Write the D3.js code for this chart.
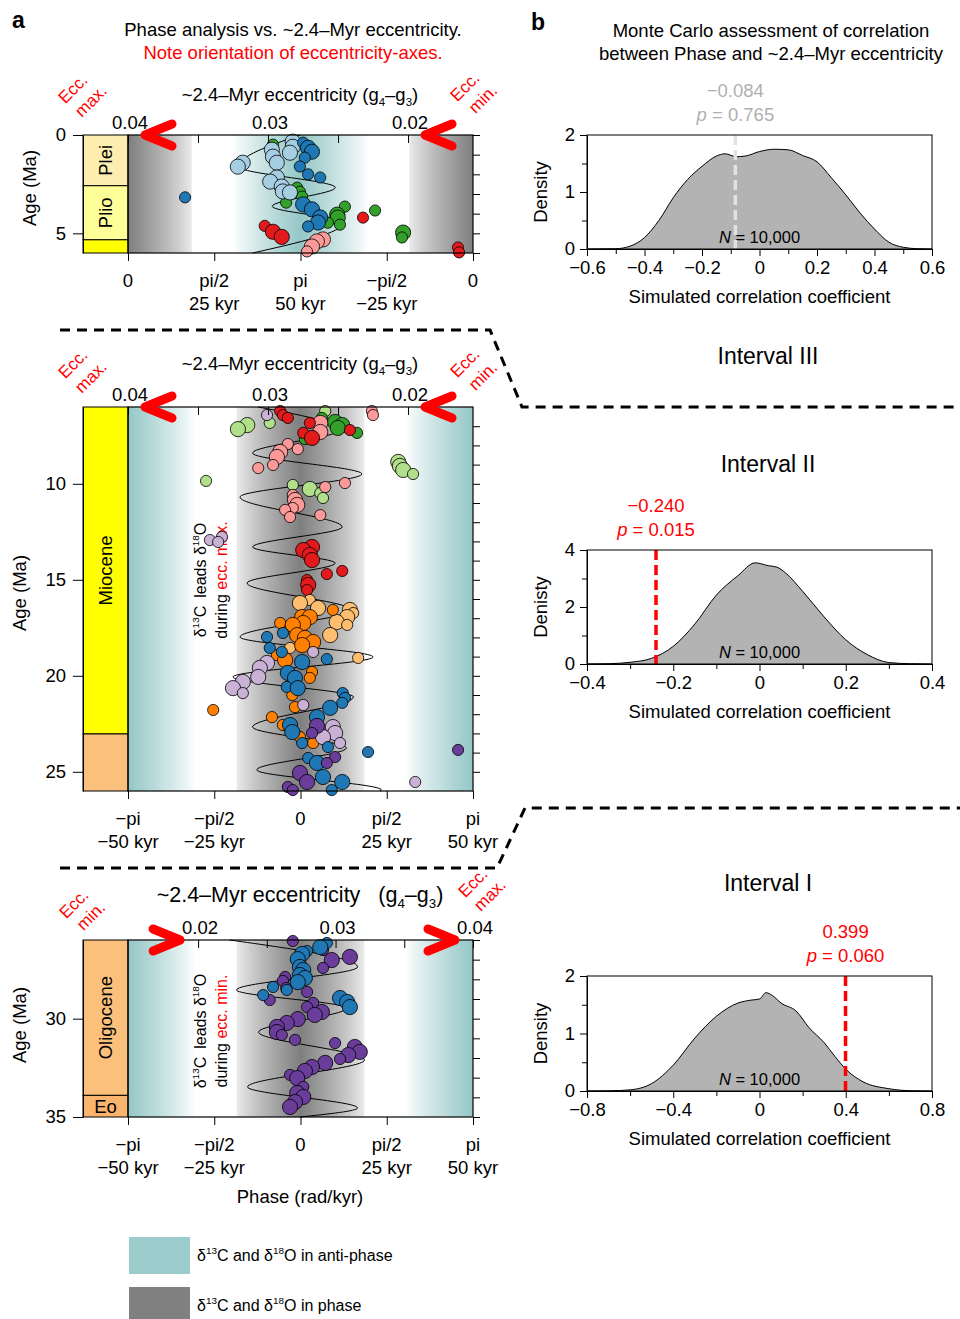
<!DOCTYPE html>
<html>
<head>
<meta charset="utf-8">
<title>Phase vs eccentricity</title>
<script src="https://d3js.org/d3.v7.min.js"></script>
<style>
  body { margin: 0; background: #fff; }
  svg text { font-family: "Liberation Sans", Arial, Helvetica, sans-serif; fill: #000; }
</style>
</head>
<body>
<svg id="fig" width="960" height="1319"></svg>
<script>
// ---------- data: panel a ----------
const PI = Math.PI;
const phaseTicksTop = [0, PI / 2, PI, 3 * PI / 2, 2 * PI];
const phaseLabelsTop = ["0", "pi/2", "pi", "\u2212pi/2", "0"];
const kyrLabelsTop = ["", "25 kyr", "50 kyr", "\u221225 kyr", ""];
const phaseTicksMid = [-PI, -PI / 2, 0, PI / 2, PI];
const phaseLabelsMid = ["\u2212pi", "\u2212pi/2", "0", "pi/2", "pi"];
const kyrLabelsMid = ["\u221250 kyr", "\u221225 kyr", "", "25 kyr", "50 kyr"];
const eccTicks = [0.02, 0.025, 0.03, 0.035, 0.04];
const eccLabelled = [0.02, 0.03, 0.04];

const epochNames = ["Plei", "Plio", "Miocene", "Oligocene", "Eo"];
const epochStart = [0, 2.58, 5.33, 23.03, 33.9];
const epochEnd = [2.58, 5.33, 23.03, 33.9, 35];

// ~2.4-Myr eccentricity curve, turning points (age Ma, eccentricity)
const curveTopAge = [0, 1.61, 2.67, 3.63, 4.44, 6.0];
const curveTopEcc = [0.0277, 0.0321, 0.0252, 0.0297, 0.0246, 0.0311];
const curveMidAge = [6.0, 7.2, 8.4, 9.49, 10.69, 12.25, 13.29, 14.13, 15.17, 16.57, 17.98, 19.02, 20.06, 21.1, 22.67, 23.76, 24.9, 25.95, 26.0];
const curveMidEcc = [0.0307, 0.0249, 0.0311, 0.0233, 0.0320, 0.0247, 0.0311, 0.0252, 0.0315, 0.0241, 0.0320, 0.0225, 0.0325, 0.0239, 0.0311, 0.0244, 0.0308, 0.0219, 0.0220];
const curveBotAge = [26.0, 27.37, 28.54, 29.46, 30.68, 32.1, 33.47, 34.54, 35.0];
const curveBotEcc = [0.0223, 0.0316, 0.0228, 0.0308, 0.0244, 0.0321, 0.0236, 0.0316, 0.0274];

// phase estimates: [age (Ma), phase (rad), coherence class 0/1]
const topGreen = [[0.49,2.64,0],[0.75,2.64,0],[2.68,3.08,0],[2.88,3.13,0],[3.13,3.17,0],[3.44,2.88,0],[3.64,3.95,0],[3.84,4.50,0],[4.05,3.81,1],[4.2,3.82,1],[4.46,3.64,0],[4.56,3.86,0],[4.96,5.01,1],[5.21,4.99,0]];
const topLtBlue = [[0.34,3.00,1],[0.6,3.0,1],[0.75,2.62,1],[0.9,2.95,1],[1.1,2.64,1],[1.41,2.71,1],[1.41,2.09,1],[1.61,2.0,1],[2.16,2.71,1],[2.37,2.59,1],[2.62,2.80,1],[2.87,2.82,1],[2.92,2.95,1]];
const topBlue = [[0.39,3.19,0],[0.65,3.28,1],[0.85,3.35,1],[1.15,3.22,0],[1.6,3.13,0],[2.0,3.28,0],[2.16,3.50,0],[3.17,1.04,0],[3.53,3.19,1],[3.78,3.35,1],[4.19,3.50,1],[4.45,3.46,1],[4.65,3.28,0]];
const topRed = [[4.2,4.28,0],[4.62,2.49,0],[4.92,2.64,1],[5.18,2.80,1],[5.72,6.01,0],[5.97,6.03,0]];
const topPink = [[5.31,3.55,1],[5.41,3.44,1],[5.67,3.35,1],[5.92,3.26,0]];

const midLtGreen = [[6.21,0.45,0],[6.83,-0.56,0],[6.94,-0.97,1],[7.15,-1.14,1],[8.86,1.78,1],[9.07,1.81,1],[9.28,1.87,1],[9.49,2.05,0],[9.85,-1.72,0],[10.06,-0.14,0],[10.27,0.17,1],[10.48,0.36,0],[10.74,0.41,0]];
const midGreen = [[6.57,0.39,0],[6.78,0.63,1],[6.94,0.76,1],[7.09,0.68,1],[7.35,1.03,0],[7.67,0.08,0]];
const midRed = [[6.21,-0.37,0],[6.42,-0.32,0],[6.57,-0.23,0],[6.83,0.17,0],[7.2,0.90,0],[7.35,0.05,0],[7.61,0.21,1],[13.29,0.21,1],[13.45,0.05,1],[13.71,0.17,1],[13.97,0.21,1],[14.54,0.76,0],[14.7,0.48,0],[15.01,0.12,0],[15.27,0.14,1],[15.53,0.12,0]];
const midPink = [[6.21,1.30,0],[6.42,1.32,0],[6.83,0.36,1],[7.3,0.36,1],[7.93,-0.23,0],[8.19,-0.05,0],[8.34,-0.37,1],[8.6,-0.43,1],[9.02,-0.50,0],[9.18,-0.77,0],[9.96,0.81,0],[10.17,0.45,0],[10.58,-0.14,0],[10.84,-0.10,1],[11.1,-0.06,1],[11.26,-0.14,0],[11.36,-0.28,0],[11.63,0.36,0],[11.73,-0.19,0]];
const midLtOrange = [[16.05,0.17,0],[16.21,-0.01,1],[16.47,0.32,1],[16.57,0.90,1],[16.73,0.96,0],[16.94,0.85,1],[17.2,0.66,1],[17.35,0.85,0],[17.88,0.54,1],[18.55,-0.19,0],[19.07,1.05,0]];
const midOrange = [[16.57,0.59,0],[16.94,0.03,1],[16.94,0.17,1],[17.25,0.05,1],[17.25,-0.37,0],[17.35,-0.14,1],[17.88,-0.06,1],[18.03,0.08,1],[18.24,0.23,1],[18.4,0.03,1],[18.92,-0.43,0],[19.18,-0.28,1],[19.8,0.21,0],[20.11,0.17,0],[21.0,-0.15,0],[21.63,-0.10,0],[21.78,-1.59,0],[22.15,-0.52,0],[22.56,-0.32,0],[23.19,-0.01,0],[23.5,0.23,0]];
const midLtPurple = [[6.42,-0.61,0],[12.77,-1.43,0],[12.93,-1.65,0],[13.03,-1.50,0],[18.76,0.23,0],[19.33,-0.61,1],[19.59,-0.74,1],[20.06,-0.77,1],[20.32,-1.05,1],[20.64,-1.23,1],[20.9,-1.05,0],[21.52,0.05,0],[22.67,0.59,1],[22.98,0.63,1],[23.19,0.41,1],[23.5,0.72,0],[25.53,2.09,0]];
const midBlue = [[17.77,-0.32,0],[17.98,-0.61,0],[18.55,-0.56,0],[18.76,-0.34,0],[19.13,0.48,0],[19.28,0.03,1],[19.85,-0.23,1],[20.11,-0.10,1],[20.58,-0.25,0],[20.64,-0.05,1],[20.9,0.77,0],[21.15,0.81,0],[21.41,0.76,0],[21.67,0.54,1],[22.15,0.30,1],[22.56,-0.19,1],[22.93,-0.15,1],[23.5,0.03,0],[23.71,0.50,0],[23.97,1.23,0],[24.28,0.14,0],[24.54,0.30,1],[25.27,0.41,1],[25.53,0.76,1],[25.95,0.57,0]];
const midPurple = [[22.61,0.30,1],[22.98,0.21,0],[23.86,2.87,0],[24.23,0.63,0],[24.54,0.48,0],[25.06,-0.01,1],[25.53,0.12,1],[25.79,-0.23,0],[25.95,-0.14,0]];

const botPurple = [[26.05,-0.14,0],[26.51,0.41,0],[26.86,0.90,1],[27.02,0.57,1],[27.42,0.41,0],[27.88,-0.28,0],[28.08,-0.32,0],[28.44,-0.26,0],[28.64,0.12,0],[29.05,-0.56,0],[29.2,0.23,0],[29.41,0.12,0],[29.66,0.39,1],[29.81,0.26,1],[30.02,-0.05,1],[30.22,-0.25,1],[30.42,-0.43,1],[30.68,-0.43,1],[30.83,-0.34,0],[31.08,-0.10,0],[31.24,0.63,0],[31.44,0.99,1],[31.69,1.08,1],[31.85,0.87,1],[32.05,0.72,0],[32.25,0.45,1],[32.46,0.21,1],[32.66,0.08,1],[32.86,-0.19,0],[33.02,-0.06,1],[33.47,0.05,0],[33.78,-0.06,1],[33.98,0.05,1],[34.24,-0.10,1],[34.49,-0.19,1]];
const botBlue = [[26.15,0.48,0],[26.36,0.36,1],[26.56,0.12,0],[26.71,0.03,1],[26.97,-0.05,1],[27.37,-0.01,1],[27.53,0.05,1],[27.78,-0.01,1],[27.93,0.08,1],[28.14,-0.05,1],[28.39,-0.50,0],[28.54,-0.25,0],[28.8,-0.68,0],[28.95,0.72,1],[29.15,0.85,1],[29.41,0.90,1]];

// ---------- data: panel b (Monte Carlo densities) ----------
const b3X = [-0.6,-0.5,-0.45,-0.4,-0.35,-0.3,-0.25,-0.2,-0.15,-0.12,-0.08,-0.05,0,0.05,0.1,0.15,0.2,0.25,0.3,0.35,0.4,0.45,0.5,0.55,0.6];
const b3Y = [0,0.005,0.05,0.2,0.5,0.9,1.22,1.45,1.63,1.67,1.62,1.63,1.71,1.75,1.74,1.64,1.53,1.25,0.95,0.63,0.35,0.12,0.03,0.005,0];
const b2X = [-0.4,-0.35,-0.3,-0.25,-0.2,-0.15,-0.1,-0.05,-0.01,0.02,0.04,0.06,0.1,0.15,0.2,0.25,0.3,0.35,0.4];
const b2Y = [0,0.01,0.06,0.2,0.62,1.4,2.42,3.1,3.55,3.45,3.4,3.2,2.55,1.65,0.85,0.33,0.05,0.01,0];
const b1X = [-0.8,-0.7,-0.6,-0.5,-0.4,-0.3,-0.2,-0.1,-0.04,0,0.03,0.06,0.1,0.17,0.23,0.3,0.35,0.4,0.48,0.6,0.7,0.8];
const b1Y = [0,0.003,0.02,0.13,0.45,0.92,1.3,1.53,1.58,1.6,1.71,1.66,1.53,1.39,1.1,0.84,0.6,0.38,0.16,0.04,0.005,0];
const observedR = [-0.084, -0.240, 0.399];
const observedP = ["0.765", "0.015", "0.060"];
const intervalNames = ["Interval III", "Interval II", "Interval I"];

// ---------- styles ----------
const siteColor = {
  ltblue: "#a6cee3", blue: "#1f78b4", ltgreen: "#b2df8a", green: "#33a02c",
  pink: "#fb9a99", red: "#e31a1c", ltorange: "#fdbf6f", orange: "#ff7f00",
  ltpurple: "#cab2d6", purple: "#6a3d9a"
};
const epochColor = ["#fdeeaf", "#ffff99", "#ffff00", "#fbc07c", "#f9b46d"];
const RED = "#ff0000";
const FS = 18.5;
const plotL = 128, plotR = 473, colL = 83;
const rScale = d3.scaleOrdinal().domain([0, 1]).range([5.6, 7.6]);

const svg = d3.select("#fig");
const defs = svg.append("defs");

function rich(t, parts, fs) {
  let shift = 0;
  parts.forEach(([s, k]) => {
    const ts = t.append("tspan").text(s);
    const want = k === "sup" ? -0.42 * fs : k === "sub" ? 0.28 * fs : 0;
    if (want - shift !== 0) ts.attr("dy", want - shift);
    shift = want;
    if (k === "sup" || k === "sub") ts.attr("font-size", fs * 0.62);
    if (k === "red") ts.style("fill", RED);
    if (k === "it") ts.attr("font-style", "italic");
  });
  return t;
}

// shading: grey = in phase (0), teal = anti-phase (pi)
function shade(d) {
  const g0 = 0.37 * PI, t0 = 0.61 * PI;
  if (d <= g0) return d3.interpolateRgb("#ececec", "#7f7f7f")(Math.pow(1 - d / g0, 0.85));
  if (d >= t0) return d3.interpolateRgb("#ffffff", "#95c7c7")(Math.pow((d - t0) / (PI - t0), 0.85));
  return "#ffffff";
}

const panels = [
  { id: "top", ages: [0, 6], top: 135, bottom: 253, phaseDomain: [0, 2 * PI],
    dist: p => (p <= PI ? p : 2 * PI - p),
    phaseTicks: phaseTicksTop, phaseLabels: phaseLabelsTop, kyrLabels: kyrLabelsTop,
    eccDomain: [0.04, 0.01536], ageTicks: [0, 5], minorAges: d3.range(0, 7),
    curveAge: curveTopAge, curveEcc: curveTopEcc,
    series: [["green", topGreen], ["ltblue", topLtBlue], ["blue", topBlue], ["red", topRed], ["pink", topPink]],
    epochLabels: ["Plei", "Plio"], ageLabel: [30, 188], titleY: 101, titleFs: FS,
    eccText: [["Ecc.", 73, 89], ["max.", 91, 101], ["Ecc.", 465, 87], ["min.", 483, 99]],
    arrows: [[0.04, -1], [0.02, -1]] },
  { id: "mid", ages: [6, 26], top: 407, bottom: 791, phaseDomain: [-PI, PI],
    dist: p => Math.abs(p),
    phaseTicks: phaseTicksMid, phaseLabels: phaseLabelsMid, kyrLabels: kyrLabelsMid,
    eccDomain: [0.04, 0.01536], ageTicks: [10, 15, 20, 25], minorAges: d3.range(7, 26),
    curveAge: curveMidAge, curveEcc: curveMidEcc,
    series: [["ltgreen", midLtGreen], ["green", midGreen], ["pink", midPink], ["red", midRed],
             ["ltorange", midLtOrange], ["orange", midOrange], ["ltpurple", midLtPurple], ["blue", midBlue], ["purple", midPurple]],
    epochLabels: ["Miocene"], ageLabel: [20, 593], titleY: 370, titleFs: FS,
    eccText: [["Ecc.", 73, 364], ["max.", 91, 377], ["Ecc.", 465, 363], ["min.", 483, 376]],
    arrows: [[0.04, -1], [0.02, -1]], lead: "max.", leadY: 580 },
  { id: "bot", ages: [26, 35], top: 940, bottom: 1117, phaseDomain: [-PI, PI],
    dist: p => Math.abs(p),
    phaseTicks: phaseTicksMid, phaseLabels: phaseLabelsMid, kyrLabels: kyrLabelsMid,
    eccDomain: [0.0149, 0.04], ageTicks: [30, 35], minorAges: d3.range(26, 36),
    curveAge: curveBotAge, curveEcc: curveBotEcc,
    series: [["purple", botPurple], ["blue", botBlue]],
    epochLabels: ["Oligocene", "Eo"], ageLabel: [20, 1025], titleY: 902, titleFs: 21.5, wide: true,
    eccText: [["Ecc.", 74, 904], ["min.", 91, 916], ["Ecc.", 473, 883], ["max.", 490, 895]],
    arrows: [[0.02, 1], [0.04, 1]], lead: "min.", leadY: 1031 }
];

panels.forEach(cfg => {
  const g = svg.append("g");
  const x = d3.scaleLinear().domain(cfg.phaseDomain).range([plotL, plotR]);
  const y = d3.scaleLinear().domain(cfg.ages).range([cfg.top, cfg.bottom]);
  const xe = d3.scaleLinear().domain(cfg.eccDomain).range([plotL, plotR]);

  // background gradient
  const grad = defs.append("linearGradient").attr("id", "grad-" + cfg.id);
  const N = 300;
  d3.range(N + 1).forEach(i => {
    const ph = cfg.phaseDomain[0] + (i / N) * (cfg.phaseDomain[1] - cfg.phaseDomain[0]);
    grad.append("stop").attr("offset", (100 * i / N) + "%").attr("stop-color", shade(cfg.dist(ph)));
  });
  g.append("rect").attr("x", plotL).attr("y", cfg.top)
    .attr("width", plotR - plotL).attr("height", cfg.bottom - cfg.top)
    .attr("fill", "url(#grad-" + cfg.id + ")");

  // geologic column
  epochNames.forEach((name, i) => {
    const a0 = Math.max(epochStart[i], cfg.ages[0]), a1 = Math.min(epochEnd[i], cfg.ages[1]);
    if (a1 <= a0) return;
    g.append("rect").attr("x", colL).attr("y", y(a0)).attr("width", plotL - colL)
      .attr("height", y(a1) - y(a0)).attr("fill", epochColor[i])
      .attr("stroke", "#000").attr("stroke-width", 1);
    if (cfg.epochLabels.includes(name)) {
      const cx = (colL + plotL) / 2, cy = (y(a0) + y(a1)) / 2;
      const t = g.append("text").attr("font-size", FS).attr("text-anchor", "middle")
        .attr("dominant-baseline", "central").text(name);
      if (name === "Eo") t.attr("x", cx).attr("y", cy);
      else t.attr("transform", `translate(${cx},${cy}) rotate(-90)`);
    }
  });

  // in-panel lead text
  if (cfg.lead) {
    const t1 = g.append("text").attr("font-size", 16).attr("text-anchor", "middle")
      .attr("transform", `translate(206,${cfg.leadY}) rotate(-90)`);
    rich(t1, [["\u03b4", ""], ["13", "sup"], ["C\u2002leads \u03b4", ""], ["18", "sup"], ["O", ""]], 16);
    const t2 = g.append("text").attr("font-size", 16).attr("text-anchor", "middle")
      .attr("transform", `translate(227,${cfg.leadY}) rotate(-90)`);
    rich(t2, [["during ", ""], ["ecc. " + cfg.lead, "red"]], 16);
  }

  // eccentricity curve
  const line = d3.line().x(d => xe(d[1])).y(d => y(d[0])).curve(d3.curveMonotoneY);
  g.append("path").datum(d3.zip(cfg.curveAge, cfg.curveEcc))
    .attr("d", line).attr("fill", "none").attr("stroke", "#000").attr("stroke-width", 1);

  // phase estimates
  cfg.series.forEach(([key, pts]) => {
    g.append("g").selectAll("circle").data(pts).join("circle")
      .attr("cx", d => x(d[1])).attr("cy", d => y(d[0])).attr("r", d => rScale(d[2]))
      .attr("fill", siteColor[key]).attr("stroke", "#000").attr("stroke-width", 0.8);
  });

  // frame
  g.append("rect").attr("x", plotL).attr("y", cfg.top)
    .attr("width", plotR - plotL).attr("height", cfg.bottom - cfg.top)
    .attr("fill", "none").attr("stroke", "#000").attr("stroke-width", 1.2);

  // age axes
  const ay = g.append("g").attr("transform", `translate(${colL},0)`)
    .call(d3.axisLeft(y).tickValues(cfg.ageTicks).tickFormat(d3.format("d"))
      .tickSize(10).tickPadding(7).tickSizeOuter(0));
  ay.attr("font-size", FS).attr("font-family", "Liberation Sans, Arial, sans-serif");
  g.append("g").attr("transform", `translate(${plotR},0)`)
    .call(d3.axisRight(y).tickValues(cfg.minorAges).tickSize(7).tickFormat("").tickSizeOuter(0))
    .select(".domain").remove();
  g.append("text").attr("font-size", FS).attr("text-anchor", "middle")
    .attr("transform", `translate(${cfg.ageLabel[0]},${cfg.ageLabel[1]}) rotate(-90)`)
    .attr("dy", "0.35em").text("Age (Ma)");

  // phase axis
  g.append("g").attr("transform", `translate(0,${cfg.bottom})`)
    .call(d3.axisBottom(x).tickValues(cfg.phaseTicks).tickSize(8).tickFormat("").tickSizeOuter(0))
    .select(".domain").remove();
  cfg.phaseTicks.forEach((v, i) => {
    g.append("text").attr("x", x(v)).attr("y", cfg.bottom + 34).attr("font-size", FS)
      .attr("text-anchor", "middle").text(cfg.phaseLabels[i]);
    g.append("text").attr("x", x(v)).attr("y", cfg.bottom + 57).attr("font-size", FS)
      .attr("text-anchor", "middle").text(cfg.kyrLabels[i]);
  });

  // eccentricity axis (top)
  g.append("g").attr("transform", `translate(0,${cfg.top})`)
    .call(d3.axisTop(xe).tickValues(eccTicks).tickSize(-8).tickFormat("").tickSizeOuter(0))
    .select(".domain").remove();
  eccLabelled.forEach(v => {
    g.append("text").attr("x", xe(v) + 2).attr("y", cfg.top - 6).attr("font-size", FS)
      .attr("text-anchor", "middle").text(d3.format(".2f")(v));
  });
  const tt = g.append("text").attr("x", 300).attr("y", cfg.titleY).attr("font-size", cfg.titleFs)
    .attr("text-anchor", "middle").attr("xml:space", "preserve");
  rich(tt, [["~2.4\u2013Myr eccentricity" + (cfg.wide ? "   (g" : " (g"), ""], ["4", "sub"], ["\u2013g", ""], ["3", "sub"], [")", ""]], cfg.titleFs);

  // red arrows pointing at labelled eccentricity values
  cfg.arrows.forEach(([v, dir]) => {
    const tip = dir < 0 ? xe(v) + 17 : xe(v) - 18;
    const back = tip - dir * 27;
    g.append("path").attr("d", `M${back},${cfg.top - 11}L${tip},${cfg.top}L${back},${cfg.top + 11}`)
      .attr("fill", "none").attr("stroke", RED).attr("stroke-width", 9)
      .attr("stroke-linecap", "round").attr("stroke-linejoin", "round");
  });
  cfg.eccText.forEach(([s, cx, cy]) => {
    g.append("text").attr("transform", `translate(${cx},${cy}) rotate(-45)`)
      .attr("text-anchor", "middle").attr("dominant-baseline", "central")
      .attr("font-size", 17).style("fill", RED).text(s);
  });
});

// ---------- panel b ----------
const dens = [
  { top: 135, bottom: 249, xd: [-0.6, 0.6], xMajor: [-0.6, -0.4, -0.2, 0, 0.2, 0.4, 0.6], xMinor: [-0.5, -0.3, -0.1, 0.1, 0.3, 0.5],
    ymax: 2, yMajor: [0, 1, 2], yMinor: [0.5, 1.5], xs: b3X, ys: b3Y, k: 0, lineColor: "#e2e2e2", txtColor: "#b0b0b0", ylab: "Density" },
  { top: 550, bottom: 664, xd: [-0.4, 0.4], xMajor: [-0.4, -0.2, 0, 0.2, 0.4], xMinor: [-0.3, -0.1, 0.1, 0.3],
    ymax: 4, yMajor: [0, 2, 4], yMinor: [1, 3], xs: b2X, ys: b2Y, k: 1, lineColor: RED, txtColor: RED, ylab: "Denisty" },
  { top: 976, bottom: 1091, xd: [-0.8, 0.8], xMajor: [-0.8, -0.4, 0, 0.4, 0.8], xMinor: [-0.6, -0.2, 0.2, 0.6],
    ymax: 2, yMajor: [0, 1, 2], yMinor: [0.5, 1.5], xs: b1X, ys: b1Y, k: 2, lineColor: RED, txtColor: RED, ylab: "Density" }
];
const bL = 587, bR = 932;
const fmtX = d => (d === 0 ? "0" : d3.format(".1f")(d));

dens.forEach(cfg => {
  const g = svg.append("g");
  const x = d3.scaleLinear().domain(cfg.xd).range([bL, bR]);
  const y = d3.scaleLinear().domain([0, cfg.ymax]).range([cfg.bottom, cfg.top]);
  const pts = d3.zip(cfg.xs, cfg.ys);
  g.append("path").datum(pts)
    .attr("d", d3.area().x(d => x(d[0])).y0(y(0)).y1(d => y(d[1])).curve(d3.curveMonotoneX))
    .attr("fill", "#b3b3b3");
  g.append("path").datum(pts)
    .attr("d", d3.line().x(d => x(d[0])).y(d => y(d[1])).curve(d3.curveMonotoneX))
    .attr("fill", "none").attr("stroke", "#000").attr("stroke-width", 1);

  const nt = g.append("text").attr("x", x(0)).attr("y", cfg.bottom - 6).attr("font-size", 16.5)
    .attr("text-anchor", "middle");
  rich(nt, [["N", "it"], [" = 10,000", ""]], 16.5);

  const r = observedR[cfg.k];
  g.append("line").attr("x1", x(r)).attr("x2", x(r)).attr("y1", cfg.top).attr("y2", cfg.bottom)
    .attr("stroke", cfg.lineColor).attr("stroke-width", 3.5).attr("stroke-dasharray", "10,5");
  g.append("text").attr("x", x(r)).attr("y", cfg.top - 38).attr("font-size", FS)
    .attr("text-anchor", "middle").style("fill", cfg.txtColor)
    .text(r < 0 ? "\u2212" + d3.format(".3f")(-r) : d3.format(".3f")(r));
  const pt = g.append("text").attr("x", x(r)).attr("y", cfg.top - 14).attr("font-size", FS)
    .attr("text-anchor", "middle").style("fill", cfg.txtColor);
  rich(pt, [["p", "it"], [" = " + observedP[cfg.k], ""]], FS);

  g.append("rect").attr("x", bL).attr("y", cfg.top).attr("width", bR - bL)
    .attr("height", cfg.bottom - cfg.top).attr("fill", "none").attr("stroke", "#000").attr("stroke-width", 1);

  const ax = g.append("g").attr("transform", `translate(0,${cfg.bottom})`)
    .call(d3.axisBottom(x).tickValues(cfg.xMajor).tickFormat(fmtX).tickSize(7).tickPadding(5).tickSizeOuter(0));
  ax.attr("font-size", FS).attr("font-family", "Liberation Sans, Arial, sans-serif");
  g.append("g").attr("transform", `translate(0,${cfg.bottom})`)
    .call(d3.axisBottom(x).tickValues(cfg.xMinor).tickFormat("").tickSize(5).tickSizeOuter(0))
    .select(".domain").remove();
  const ay = g.append("g").attr("transform", `translate(${bL},0)`)
    .call(d3.axisLeft(y).tickValues(cfg.yMajor).tickFormat(d3.format("d")).tickSize(7).tickPadding(5).tickSizeOuter(0));
  ay.attr("font-size", FS).attr("font-family", "Liberation Sans, Arial, sans-serif");
  g.append("g").attr("transform", `translate(${bL},0)`)
    .call(d3.axisLeft(y).tickValues(cfg.yMinor).tickFormat("").tickSize(5).tickSizeOuter(0))
    .select(".domain").remove();

  g.append("text").attr("x", (bL + bR) / 2).attr("y", cfg.bottom + 54).attr("font-size", FS)
    .attr("text-anchor", "middle").text("Simulated correlation coefficient");
  g.append("text").attr("font-size", FS).attr("text-anchor", "middle")
    .attr("transform", `translate(541,${(cfg.top + cfg.bottom) / 2}) rotate(-90)`)
    .attr("dy", "0.35em").text(cfg.ylab);
});

// interval headings
[[364, 0], [472, 1], [891, 2]].forEach(([yy, i]) => {
  svg.append("text").attr("x", 768).attr("y", yy).attr("font-size", 23)
    .attr("text-anchor", "middle").text(intervalNames[i]);
});

// dashed separators
svg.append("path").attr("d", "M60,330H490L522,407H960")
  .attr("fill", "none").attr("stroke", "#000").attr("stroke-width", 3).attr("stroke-dasharray", "10,7");
svg.append("path").attr("d", "M60,868H497L525,808H960")
  .attr("fill", "none").attr("stroke", "#000").attr("stroke-width", 3).attr("stroke-dasharray", "10,7");

// titles
svg.append("text").attr("x", 12).attr("y", 28).attr("font-size", 23).attr("font-weight", "bold").text("a");
svg.append("text").attr("x", 531).attr("y", 30).attr("font-size", 23).attr("font-weight", "bold").text("b");
svg.append("text").attr("x", 293).attr("y", 36).attr("font-size", FS).attr("text-anchor", "middle")
  .text("Phase analysis vs. ~2.4\u2013Myr eccentricity.");
svg.append("text").attr("x", 293).attr("y", 59).attr("font-size", FS).attr("text-anchor", "middle")
  .style("fill", RED).text("Note orientation of eccentricity-axes.");
svg.append("text").attr("x", 771).attr("y", 37).attr("font-size", FS).attr("text-anchor", "middle")
  .text("Monte Carlo assessment of correlation");
svg.append("text").attr("x", 771).attr("y", 60).attr("font-size", FS).attr("text-anchor", "middle")
  .text("between Phase and ~2.4\u2013Myr eccentricity");
svg.append("text").attr("x", 300).attr("y", 1203).attr("font-size", FS).attr("text-anchor", "middle")
  .text("Phase (rad/kyr)");

// legend
const legend = [["#9bcbcb", "anti-phase", 1237, 37], ["#808080", "phase", 1287, 33]];
legend.forEach(([c, word, yy, h]) => {
  svg.append("rect").attr("x", 129).attr("y", yy).attr("width", 61).attr("height", h).attr("fill", c);
  const t = svg.append("text").attr("x", 197).attr("y", yy + 24).attr("font-size", 16);
  rich(t, [["\u03b4", ""], ["13", "sup"], ["C and \u03b4", ""], ["18", "sup"], ["O in " + word, ""]], 16);
});
</script>
</body>
</html>
